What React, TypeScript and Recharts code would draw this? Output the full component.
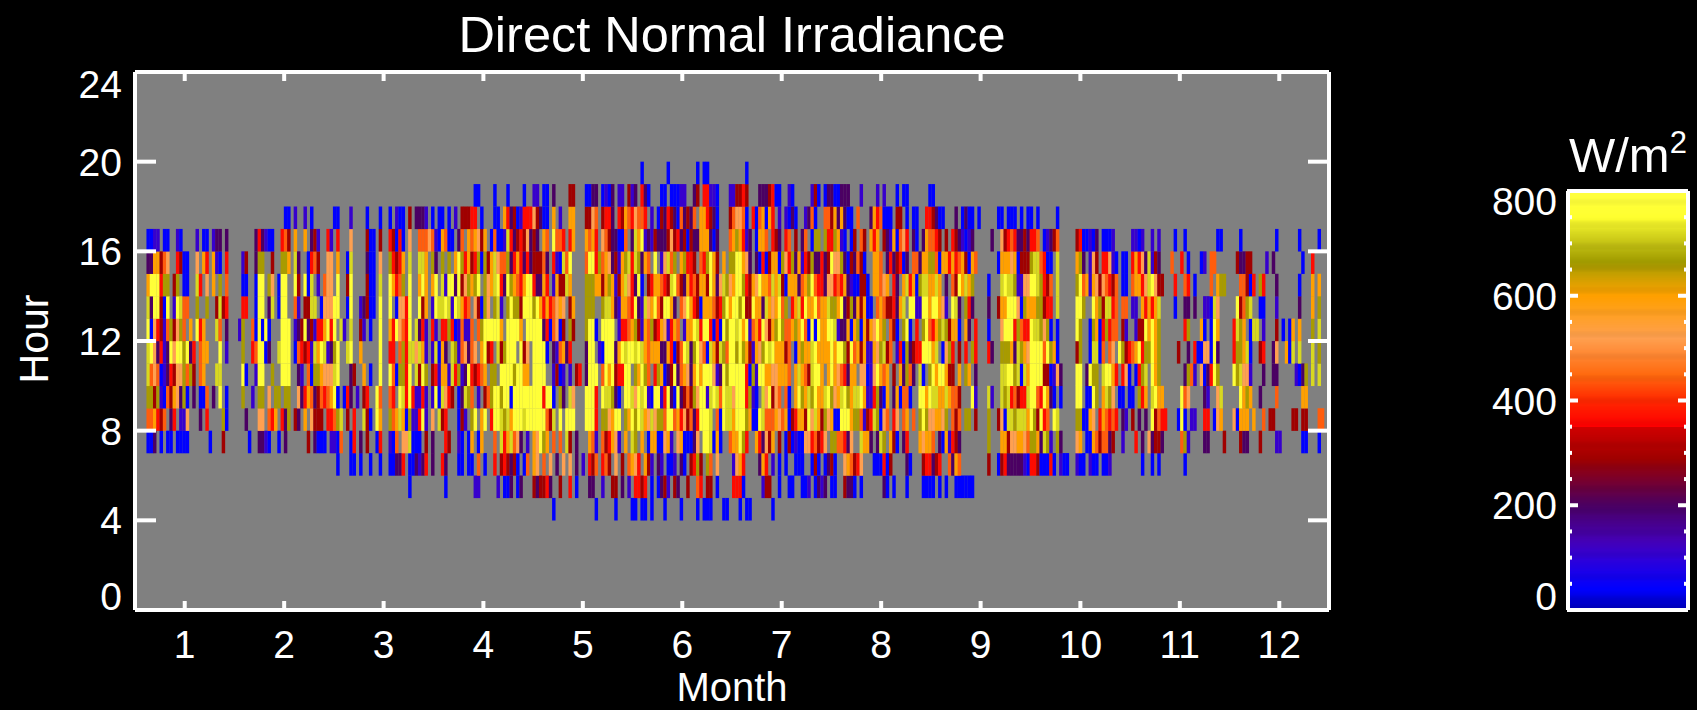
import React from 'react';
import { ScatterChart, Scatter, XAxis, YAxis, ZAxis, CartesianGrid } from 'recharts';

// Readings by hour row: "<day><levels>" runs, each letter one day, '.' = no reading.
const LEVEL_VALUES: Record<string, number> = { a: 40, b: 110, c: 200, d: 290, e: 365, f: 440, g: 520, h: 600, i: 660, j: 720, k: 775 };

const HOUR_4 = '128a 141a 147a 152aa 155aa 158a 162a 167a 172a 174aaa 180aa 185a 187aa 195a';
const HOUR_5 = '84a 95a 104bb 111b 113aa 115c 117a 118c 122d 123c 124d 125d 126e 127c 130d 133e 135a 139c 140c 143b 146d 147d 149c 151b 153e 154e 155d 156e 158a 160a 161c 162d 163b 165d 166c 169d 172f 173e 175d 176d 178a 183e 184e 185e 186a 192b 193d 194d 197a 200aa 204aa 206b 208a 209c 210b 211c 213a 214a 217d 218c 219c 220a 222a 229c 230a 232a 236a 241aaaa 246a 248a 251aaaaaa';
const HOUR_6 = '62a 66aa 69a 72a 75a 78aa 80c 81c 82e 84a 85a 86c 87b 88c 89e 91c 94e 95c 99aa 102a 103a 105f 107a 110e 112d 113e 114d 115c 116d 117a 119a 120f 122h 123g 125f 127g 129c 131g 133g 135c 137b 139e 140d 141f 143e 144f 145d 147g 149d 151f 152h 153g 154e 156h 157d 158b 160c 161b 163a 164a 165b 167c 168a 170d 171e 172i 173d 175i 176f 178g 183b 184g 185h 186e 191c 192h 193e 195b 197a 199a 202a 203a 204a 207a 208d 209a 211a 212c 213d 214a 217g 218h 219f 220d 221e 222g 226aa 228a 229e 230a 231d 236c 237a 241d 242e 243e 244c 245d 246e 249f 250c 251h 252f 261d 264adecccccba 274e 275e 276d 277a 278a 279a 280e 281a 283b 284a 285a 288b 289a 290a 292b 293a 294a 296a 297a 298b 308a 311a 313a 321a';
const HOUR_7 = '4aa 6c 8a 10aa 13aa 15aa 23a 27d 35a 38c 39c 40b 41a 44a 46c 53d 55c 56a 57a 58a 60bb 62a 63f 66a 67e 69c 71d 74a 75e 78b 79a 80f 82g 83g 84j 85a 86a 87a 89d 91c 95e 96d 99b 100a 102a 103h 105a 106h 110f 112j 113e 114h 115j 116f 117g 118c 120b 122h 123g 124k 125i 126h 128f 130f 132j 133d 135c 139h 140f 141b 143f 144d 145e 146h 147g 148b 150h 152j 153i 155h 157a 158h 159h 160a 161a 162g 163h 164b 166g 167h 168a 169a 170a 171c 172g 174k 175k 176j 177a 178h 179a 182f 183h 184h 185k 186i 187e 190h 191e 192c 193g 194d 195h 197d 199a 200d 201a 202b 203a 204a 205g 206g 207e 208f 209d 210e 211g 213i 214i 215f 216f 217e 218c 219g 222j 223h 224h 225c 227c 228j 229i 231h 232d 233a 235c 236e 240h 241g 242h 243h 244f 246c 247a 248h 249b 250e 251d 252c 261i 265hhdgghhgf 274i 275i 276h 277c 278j 279i 280b 282i 283c 288g 289h 291a 292a 293h 294f 295d 296f 297f 298c 299d 302b 306e 308c 310g 311c 312d 313d 314c 320f 321i 322b 327c 328c 333d 338d 339c 340c 344d 349b 350b 357a 358a 362a';
const HOUR_8 = '4ff 6h 7e 8d 9f 11c 12e 14b 15b 16g 20c 22e 27i 28a 34c 38g 39g 41f 42e 43h 45e 46c 47i 49d 50c 52h 54g 55d 56d 57d 59e 60e 61f 62i 63j 65d 67e 70j 71d 72a 74k 75h 78i 79f 80h 81j 82h 83a 84i 85b 86b 87e 88k 89b 91g 93j 94d 95e 99a 100d 101b 103i 104k 106h 107k 109e 110k 111k 112j 113i 114j 115h 116k 117k 118k 119j 120k 121k 122k 123k 124k 125k 126f 127d 128j 130k 132k 133k 134k 138k 139k 140k 141e 143i 144i 145g 146h 147k 148k 150i 151h 152k 153i 154k 155j 156h 157g 158j 159g 160i 161i 162f 163k 164k 165f 166h 167e 168g 169d 170f 171c 172e 173k 174k 175k 176j 178f 179a 180k 181j 182j 183h 184k 185k 186k 187i 188h 189a 190a 191k 192j 193f 194f 195f 196h 197g 198f 199h 200a 201d 202e 203h 204h 205d 206k 207g 208j 209h 210d 211i 212g 213h 214a 215a 216k 217k 218k 219h 220i 221i 222f 223b 224d 225e 226j 227i 228a 229g 230f 232e 233g 235f 236h 238f 240i 241k 242i 243g 244g 245h 246h 247g 248i 250f 251d 252f 254i 255i 257d 261i 264dgajjijjjh 274k 275i 276d 277k 278e 279f 281k 282j 288i 289i 290a 291a 292h 293g 295e 296h 297f 298e 299f 300e 302c 303b 305d 307c 309c 311k 312d 313f 314e 315e 319a 320k 321a 323b 324b 327e 328e 330a 331g 332h 336g 337a 338h 339h 340h 342h 345f 347d 348d 354d 355d 357d 358d 362f 363f';
const HOUR_9 = '4ii 6d 7i 8b 9a 10f 11d 12h 13g 14c 15i 16a 18c 20a 21a 22f 24c 26k 28a 33i 36b 38i 39i 41g 43i 44i 46i 47i 50g 51c 52e 53h 54f 55c 56d 57f 58e 59f 60h 61k 62a 64a 65e 66c 68b 70d 71e 74k 75f 78f 79e 81k 82j 83e 84k 85e 86b 87b 88e 89b 91b 92k 93a 94j 95g 96e 97d 99a 100c 101j 102i 103f 105b 107d 108f 109i 110k 111k 112i 113k 114k 115a 116k 117k 118k 119k 120k 121k 122k 123k 124k 125e 126k 127k 128a 130i 131c 133j 134g 138k 139k 140k 141e 143k 144j 145j 146i 147c 148a 150k 151k 152j 153g 154k 155j 156k 157b 158a 159k 160k 161b 162e 163k 164c 165a 166k 167c 168d 169f 170d 171i 172g 173k 174k 175b 176j 177k 178j 179f 180k 181j 182j 183g 184k 185k 186k 187e 188i 189b 190a 192j 193g 194k 195d 196g 197f 199f 200a 202h 203k 204i 205h 206j 207i 208k 209h 210h 211j 212k 213i 214g 215h 216j 217k 218i 219h 220j 221j 222k 223h 224b 225b 226e 227i 228c 229a 230h 232c 233h 234a 235f 236f 237a 240k 241k 242h 243k 244j 245j 246h 247h 248j 249h 250f 251f 252d 256k 257b 261jb 265jijefdeej 274k 275k 276f 277e 278k 279h 280c 281a 283a 288k 289k 291a 292a 293k 294i 296h 297j 298i 299g 301a 302a 304a 305a 307i 308e 309h 311j 312k 313h 314h 320k 321f 322g 327c 328b 331g 332j 338k 339h 340i 341h 344c 349f 357h 358h';
const HOUR_10 = '4jf 6g 7f 8a 9b 10c 11e 12d 13g 14g 15i 16f 17i 18d 20f 21h 25j 26j 33k 34a 37b 38k 39k 42i 45k 46k 47k 50c 51b 53f 54a 55i 56i 57h 58g 59g 60g 61j 62k 66c 67d 70h 72a 75k 78k 79f 80a 81i 82i 83e 84k 86j 87d 88k 89i 91d 92e 93b 94h 95h 96b 97j 98e 99i 100b 101c 102k 103e 104d 105e 106f 107h 109i 110i 112k 113k 114k 115k 116i 117k 118k 119h 120h 122k 123k 124k 125k 128b 129d 130a 131b 133b 135d 136e 138c 139k 140k 141k 143f 144k 145h 146k 147d 148e 149e 150k 151k 153i 154h 155k 156i 157f 159e 160i 161h 162a 163c 164d 165k 166c 167f 168h 169g 170c 171h 172k 173h 174k 175k 176k 177g 178b 179c 180k 181i 182k 183k 184k 185k 186k 187e 188a 189i 190b 191k 192k 193h 194h 195g 196g 197h 198h 199h 200f 202h 203j 204h 205f 206d 207j 208k 209k 210h 212h 213k 214h 215g 216f 217e 218c 219h 220h 222g 223g 224a 225b 226g 227k 228h 229f 230h 232d 234h 235c 236i 237f 238c 240j 241a 243i 244k 245h 246k 247k 248h 249d 250d 252h 254i 255h 257c 265jjkkijajh 274k 275k 276k 277k 278d 279d 280a 281b 282g 283c 288k 289k 291c 292k 293i 294i 296j 297k 298k 299h 300e 302e 303g 304a 306a 307e 308i 309j 311k 312h 313i 321c 322i 323f 324b 326g 327a 328c 329e 330k 331i 336k 337i 338j 339g 340g 341b 345c 348c 349c 355b 356a 357c 358i 360j 362j';
const HOUR_11 = '4jk 6g 7c 8e 9b 10c 11k 12g 13k 14k 15i 16k 17c 18e 20f 21h 22h 26k 28b 33i 36e 37f 38k 39k 40a 41c 44j 45k 46k 47k 49a 50f 51e 52d 53e 54b 55j 56h 57k 58j 59b 60c 61i 62k 65j 66k 69h 75k 78e 79e 81f 82i 83e 84j 85j 86g 87j 88h 89b 91b 92j 93a 94h 95c 97j 98i 99b 100f 101g 102c 103f 104g 106h 107k 108d 109e 111j 112d 113i 114k 115k 116k 118k 119d 120g 122k 123k 124k 125k 126a 128c 129b 130f 131h 132c 133e 138c 139k 140k 142b 143a 144k 145k 146k 147c 148h 149k 150j 151k 152k 153j 154k 155j 156h 157f 158h 159h 160h 161c 162c 163h 164e 165a 166d 167f 168k 169j 170c 171i 172k 173g 174f 175a 176j 177h 178d 179j 180i 181f 182k 183k 184i 185k 186i 187h 188d 189b 190h 191g 192i 193k 194j 195k 196h 197h 198h 199d 200f 202a 203h 204i 205h 206h 207j 208k 209h 210h 211h 212h 213k 214h 215k 216k 217i 218d 219k 220f 221h 222d 223h 224b 225b 226h 227g 228i 229j 230d 231f 233b 234e 235a 236i 237c 238d 239e 240e 241k 242k 243k 244h 245j 247a 248g 249i 250e 252d 254e 256i 257e 261ec 265iiihcjihg 274k 275k 276k 277k 278f 279k 280i 281h 282a 288d 289i 292a 293j 294j 295a 296f 298f 299g 301k 302i 303d 304e 305f 306h 307k 308e 309i 310i 311k 312h 313i 319d 322c 324e 325a 326a 327g 328g 329a 330k 331c 336e 337i 338i 339h 340j 341a 344d 345e 348c 349g 352h 353a 354j 356j 360j 362i';
const HOUR_12 = '4ka 6g 7e 8d 9b 10f 11i 12d 13g 14i 15f 17h 19k 20e 21h 25j 26f 28c 32b 33i 36f 37a 38k 39a 40k 41a 45k 46k 47k 49b 50c 51d 52k 53c 54d 55b 56e 57e 58h 59k 60e 61k 63j 64b 66j 69d 70b 72a 75k 78h 79e 80k 81g 82f 83e 84k 86j 87c 88e 89b 91e 92b 94e 95e 96i 97e 98a 99b 100f 101b 102b 103f 105f 106i 107k 108k 109k 110k 111k 112h 114k 115k 116k 117k 118h 120k 121k 122k 123k 124k 125c 126e 127a 128f 129g 130a 131d 133i 134d 138i 139k 140k 141a 143k 144k 145k 146k 148b 149e 150e 151f 152h 153i 154d 155b 156h 157f 158i 159d 160e 161h 162g 163b 164e 165h 166f 168b 169h 170h 171k 172j 173e 174k 175k 176e 177a 178e 179a 180k 181i 182k 183k 184j 185k 186h 187k 188b 189f 190h 191e 192k 193g 194d 195h 196i 197k 198i 199f 200f 201h 202i 203h 204k 205f 206a 207k 208a 209k 210h 211h 212k 213k 214j 215b 216c 217c 218h 219a 220h 221i 222a 223h 224d 225h 226g 227k 228h 229i 231f 232d 233a 235i 236k 237a 239e 241i 242k 243f 244e 245h 246i 247j 248i 249d 250h 251h 252a 254h 255c 257e 261a 265gkkkeifee 274k 275j 276j 277i 278g 279i 280a 282a 288k 289i 292a 293i 294h 295a 296e 297i 298e 299f 300f 302d 303b 306b 307d 308d 309k 310h 311k 312h 313i 321e 322i 326h 327a 329a 330k 331h 336e 337j 338i 339h 341a 342j 343j 345b 349d 351a 353a 354h 356h 360i 362j';
const HOUR_13 = '4jc 6k 7k 8d 9a 10k 12b 13k 14j 15f 16f 19i 22i 25d 26j 27d 28e 33e 34e 37a 38k 39k 41c 42j 44a 45k 46k 49f 50b 52d 53d 54j 55j 57a 58g 59g 60g 61k 62k 65a 66k 69b 70c 71d 72a 73a 75k 78k 80a 81g 82g 83e 84k 87k 88d 89h 91b 92k 93j 94j 95k 96j 97b 98k 99j 100h 101e 102f 104g 105d 106a 107i 108g 110i 111j 112b 114i 115k 116i 117i 118d 119k 120k 121k 122i 123k 124h 125e 126h 127e 128f 129g 130h 131g 133d 134h 138i 139i 140i 143i 144j 145j 146h 147c 148b 149h 150h 151f 152e 153k 154c 155b 156j 157g 158h 159k 160f 161d 162k 163k 164h 165c 167f 168g 169k 170h 171e 172d 173a 174h 175h 176h 177f 178d 179e 180i 181k 182h 183k 184k 185i 186k 187d 188d 189k 190h 191h 192c 193j 194h 195g 196h 197k 198f 199i 201e 202h 203j 204e 205k 206h 207h 208k 209f 210h 211h 212j 213i 214i 215h 216k 217c 218d 219i 220c 221h 222d 223h 224a 225a 227f 228h 229f 230d 231d 232e 233c 234h 235j 237k 238k 239b 240b 241k 242k 243h 244k 245k 246h 247g 248b 250k 251j 252c 254i 255e 256c 261c 264dhhkkkgaih 274h 275h 276i 277i 278d 279e 280e 282j 288k 289k 290i 293k 294h 295i 296d 297j 298j 299e 300f 302f 303f 305b 306b 308h 309e 310h 311e 312h 313j 318a 321c 322c 324c 327b 328b 329a 330j 331g 337k 338d 339f 340i 341j 344a 345a 349b 356c 360h 362i';
const HOUR_14 = '4hk 6k 7k 8e 9i 10i 12d 13i 15a 16a 19j 20e 22g 24h 26i 28f 33a 34a 37a 38k 39k 41i 42g 44a 45k 46k 49k 50d 52k 53a 54j 56b 58f 59g 60g 62k 65d 66k 71d 72a 73a 75j 78k 79h 80e 81f 82i 84k 87h 88k 89h 91h 92k 94j 95b 96k 97k 98c 99k 100d 101g 102i 103h 104i 105k 107i 108g 109h 110j 111k 112e 113c 114k 115i 116h 117f 118e 119h 120k 121k 122e 123c 124c 125h 126e 128b 129h 130d 131d 132j 133h 138i 139i 140i 141h 142h 143d 144h 145i 146h 147b 148d 149h 150j 151g 152e 153c 154k 155a 157d 158e 159h 160h 161f 162e 163d 164j 165k 166f 167d 168c 169h 170e 171f 172d 173h 174h 175d 176k 177h 178c 179g 180j 181i 182g 183h 184k 185k 186i 187e 188d 189h 190g 191k 192h 193h 194f 195j 196h 197j 198d 199a 200h 201h 202h 203c 204f 205h 206i 207k 208f 209e 210e 211c 212g 213g 214e 215f 216e 217h 218c 219b 220a 221a 222d 223d 224a 226h 227h 228f 229g 230h 232e 233c 235h 236j 237e 238h 239a 240i 241j 242j 243h 244h 245j 246h 248c 250f 251d 252k 253h 254j 255h 256i 261a 265jkjjibbgg 274k 275k 276j 277i 278e 279d 280f 282j 288i 289k 290f 291h 292b 293h 294g 295d 296g 297f 298e 299d 300f 302a 303a 305f 306h 307h 308e 309g 310j 311k 312g 313d 314d 318e 321f 322e 324a 329f 331h 332i 333i 338f 339f 340d 341a 342e 344i 345e 349c 356a 360h 362h';
const HOUR_15 = '4cc 6h 7h 8d 9f 10g 13e 14d 15a 16a 19g 21h 22e 24h 25b 26a 28e 33b 34d 37c 38i 39i 42d 45i 46i 47h 49j 50c 53a 54e 55f 56d 59g 60g 62h 65a 66j 71c 72a 73a 75g 78i 79e 80d 81e 82h 84j 87j 88j 89h 91i 92c 94i 96i 98h 99k 100i 101e 102h 103d 104e 105i 106a 107i 108d 109h 110j 111g 112f 113f 114i 115c 116e 117h 118e 119c 120e 121c 122d 123d 124d 125f 126c 128e 129b 130a 131j 132f 133k 138f 139k 140k 141e 142i 143f 144h 145g 146c 147d 148b 149h 150i 151j 152e 153j 154i 155c 156h 157f 159k 161b 162g 163j 164f 165i 167h 168i 169e 170e 171d 173f 174e 175i 176k 177h 178d 180h 182i 183i 184k 185k 186h 187g 188c 190c 191a 192e 193a 194d 195h 196h 197a 198i 199g 200e 201i 202c 203h 204b 205e 206d 207i 208c 209c 210e 211c 212d 213k 214g 215g 216i 217c 218a 219d 220c 221f 222d 223a 226h 227h 228f 230c 231e 232c 233d 234e 235a 236c 238f 239f 240c 241h 242h 243i 244i 245f 246a 247h 248h 249e 250h 251e 252f 253h 254d 255a 256h 257f 264ahhhghaddd 274i 275j 276j 277f 278e 279a 280a 282j 288h 289i 290c 292b 293g 294d 296e 297e 298g 299b 300a 302a 303a 305e 306h 307e 308g 309c 310j 311b 312d 313c 317f 320e 322a 326a 327b 329f 330f 337d 338c 339c 340d 341d 346b 348c 357a 360e';
const HOUR_16 = '4aa 6b 7b 9aa 13b 14a 19b 21aa 24b 25c 26c 28c 37c 38e 39c 40b 41a 42a 45e 46f 47d 49h 52h 54c 55d 56b 59e 60b 62e 66g 71d 72a 73a 75d 78e 79d 80a 81e 82a 84g 87f 88f 89f 90g 91f 92b 93a 94h 95f 96a 97a 99c 100f 102h 103f 104h 105g 106d 107h 109a 110f 111a 112a 113b 114j 115e 116c 117d 118e 119d 120g 121c 122d 123c 125h 126f 128k 129f 130f 131e 133e 134h 138h 139f 140h 141e 143g 144f 145d 146c 147c 148a 149a 150f 152c 153j 154h 155k 156b 157c 158b 159d 160c 161c 162c 163d 164g 165d 166e 167c 168d 169a 170d 171c 172c 173h 174h 175h 176c 177a 178c 182f 183h 184i 185h 186e 187b 188c 190a 191h 192h 193f 195e 196d 197c 199e 200f 202d 204c 205f 207a 208i 209i 211i 212e 213e 214i 215h 216b 217a 219a 220d 222f 223d 225h 226e 227h 229d 230c 231b 232h 233a 234f 235g 236e 238c 239a 241c 242h 243f 244f 245e 246d 248d 250e 251d 252c 253b 254a 255b 256c 262c 265gdefeccdc 274e 275e 276f 278a 279b 280c 281d 282f 288d 289e 290a 291a 292b 293a 294c 296a 297a 298a 299b 305b 306b 307a 308b 311b 313b 318a 321a 331a 332a 338a 349a 356a 362a';
const HOUR_17 = '46aa 49b 52b 54a 61aa 66b 71a 75a 78a 80b 81a 82a 84d 86c 87c 88c 89b 91a 93aa 96a 98b 100d 101d 102d 103e 104e 106a 110a 111a 113h 114e 115c 116d 117a 118b 119e 120e 121e 122g 123d 124c 125a 126a 128h 130b 133h 134h 138d 139d 140g 141f 143d 144e 145e 146c 148e 149d 150h 151f 152e 153g 154f 155f 156e 158b 160a 161d 162c 163e 164d 165c 166a 167f 168c 169d 170c 171f 173h 174h 175e 176d 177c 178a 182d 183f 184g 185g 186f 187a 189e 190a 191f 192h 193a 194h 195e 197b 199b 200a 201c 202a 205b 206c 207f 208a 211f 212f 213d 214h 215c 216h 217c 218a 219a 221f 225c 226h 227e 228f 229a 230a 231a 233d 234d 236a 238a 239a 242e 243e 244d 245c 246a 247a 251c 253a 254c 255a 256a 258a 264aa 267aaa 271a 273a 274a 276a 282a';
const HOUR_18 = '104aa 110a 114a 119a 122b 123b 125a 126a 128c 133d 134d 138a 139a 140c 141c 143a 144b 145a 146c 148b 149b 151d 152b 153c 155e 156c 157a 161a 162a 164a 165a 166a 167b 168b 171c 172d 174e 175e 176b 177b 178a 182b 183b 184d 185d 186e 187d 191c 192c 193c 194d 195e 196a 197a 200b 201a 207b 208d 209a 211a 212c 213c 214a 215a 216c 217c 218c 222b 227b 229b 233a 235a 236a 243a 244a';
const HOUR_19 = '155a 163a 172a 174a 175a 187a';

const HOUR_ROWS: [number, string][] = [
  [4, HOUR_4], [5, HOUR_5], [6, HOUR_6], [7, HOUR_7], [8, HOUR_8], [9, HOUR_9], [10, HOUR_10], [11, HOUR_11],
  [12, HOUR_12], [13, HOUR_13], [14, HOUR_14], [15, HOUR_15], [16, HOUR_16], [17, HOUR_17], [18, HOUR_18], [19, HOUR_19],
];

const MONTH_LABELS = ['1', '2', '3', '4', '5', '6', '7', '8', '9', '10', '11', '12'];
const MONTH_TICKS = [15.2, 45.6, 76, 106.5, 136.9, 167.3, 197.7, 228.1, 258.5, 289, 319.4, 349.8];
const HOUR_TICKS = [0, 4, 8, 12, 16, 20, 24];
const SCALE_MAJOR = [0, 200, 400, 600, 800];
const SCALE_MINOR = [50, 100, 150, 250, 300, 350, 450, 500, 550, 650, 700, 750];
// Samples of the colour ramp itself (the legend's axis, not chart data).
const SCALE_STEP = 2;
const SCALE_LEVELS = Array.from({ length: 400 }, (_, i) => (i + 0.5) * SCALE_STEP);

const STOP_VALUES = [0, 40, 100, 130, 200, 290, 350, 351, 400, 450, 520, 600, 640, 665, 720, 750, 800];
const STOP_COLORS = ['#0000b0', '#0000ff', '#3000d8', '#4400b8', '#4b0063', '#a00000', '#d00000', '#ff0000', '#ff2800', '#ff6a10', '#ffa050', '#ffa000', '#c8a000', '#a09a00', '#d8d820', '#ffff30', '#ffff40'];

const hexToRgb = (h: string) => [1, 3, 5].map((i) => parseInt(h.slice(i, i + 2), 16));
const colorOf = (v: number) => {
  let i = 0;
  while (i < STOP_VALUES.length - 2 && v > STOP_VALUES[i + 1]) i++;
  const t = Math.min(1, Math.max(0, (v - STOP_VALUES[i]) / (STOP_VALUES[i + 1] - STOP_VALUES[i])));
  const a = hexToRgb(STOP_COLORS[i]);
  const b = hexToRgb(STOP_COLORS[i + 1]);
  return `rgb(${a.map((c, k) => Math.round(c + (b[k] - c) * t)).join(',')})`;
};

const cells: { day: number; hour: number; value: number }[] = [];
HOUR_ROWS.forEach(([hour, text]) => {
  text.split(' ').forEach((run) => {
    const m = run.match(/^(\d+)([a-k.]+)$/);
    if (!m) return;
    [...m[2]].forEach((c, i) => {
      if (c !== '.') cells.push({ day: Number(m[1]) + i, hour: hour + 0.5, value: LEVEL_VALUES[c] });
    });
  });
});
const scaleCells = SCALE_LEVELS.map((value) => ({ pos: 0.5, value }));

const FONT = '"Liberation Sans", Arial, sans-serif';
const TICK_SIZE = 39;
const W = 1697;
const H = 710;
const PLOT = { left: 135, right: 1329, top: 72, bottom: 610 };
const CELL_W = (PLOT.right - PLOT.left) / 365;
const CELL_H = (PLOT.bottom - PLOT.top) / 24;
const BAR = { left: 1568, right: 1688, top: 191, bottom: 610 };
const BAR_X = 1440;
const BAR_STEP = ((BAR.bottom - BAR.top) / 800) * SCALE_STEP;

const HeatCell = (p: any) => (
  <rect x={p.cx - CELL_W / 2} y={p.cy - CELL_H / 2} width={CELL_W + 0.2} height={CELL_H + 0.2} fill={colorOf(p.payload.value)} />
);
const ScaleCell = (p: any) => (
  <rect x={BAR.left - BAR_X} y={p.cy - BAR_STEP / 2 - 0.3} width={BAR.right - BAR.left} height={BAR_STEP + 0.6} fill={colorOf(p.payload.value)} />
);
const NoMark = () => null;
const NoTick = () => <g />;

const LeftTick = (low: number, high: number, highShift: number) => (p: any) => {
  const v = p.payload.value;
  const base = v === high ? p.y + highShift : v === low ? p.y : p.y + 14;
  return (
    <text x={p.x} y={base} textAnchor="end" fill="#fff" fontFamily={FONT} fontSize={TICK_SIZE}>{v}</text>
  );
};

const MonthTick = (p: any) => (
  <text x={p.x} y={p.y + 48} textAnchor="middle" fill="#fff" fontFamily={FONT} fontSize={TICK_SIZE}>{MONTH_LABELS[p.index]}</text>
);

const line = { stroke: '#fff', strokeWidth: 4 };
const tick = { stroke: '#fff', strokeWidth: 4 };
const markLayer: any = { zIndex: 100 };
const axisLayer: any = { zIndex: 900 };

export default function App() {
  return (
    <div style={{ position: 'absolute', left: 0, top: 0, width: W, height: H, background: '#000', overflow: 'hidden' }}>
      <div style={{ position: 'absolute', left: 0, top: 0 }}>
        <ScatterChart
          width={W}
          height={H}
          margin={{ top: PLOT.top - 1, left: PLOT.left - 60, right: W - PLOT.right - 1, bottom: H - PLOT.bottom - 60 }}
        >
          <CartesianGrid horizontal={false} vertical={false} fill="#808080" />
          <Scatter {...markLayer} xAxisId="b" yAxisId="l" data={cells} shape={HeatCell} isAnimationActive={false} />
          <Scatter {...markLayer} xAxisId="t" yAxisId="r" data={cells.slice(0, 1)} shape={NoMark} isAnimationActive={false} />
          <XAxis {...axisLayer} xAxisId="b" type="number" dataKey="day" domain={[0, 365]} ticks={MONTH_TICKS} height={60} interval={0} allowDataOverflow
            axisLine={line} tickLine={tick} tickSize={-9} tickMargin={9} tick={MonthTick} />
          <XAxis {...axisLayer} xAxisId="t" type="number" dataKey="day" orientation="top" domain={[0, 365]} ticks={MONTH_TICKS} height={1} interval={0} allowDataOverflow
            axisLine={line} tickLine={tick} tickSize={-9} tick={NoTick} />
          <YAxis {...axisLayer} yAxisId="l" type="number" dataKey="hour" domain={[0, 24]} ticks={HOUR_TICKS} width={60} interval={0} allowDataOverflow
            axisLine={line} tickLine={tick} tickSize={-21} tickMargin={34} tick={LeftTick(0, 24, 26)} />
          <YAxis {...axisLayer} yAxisId="r" type="number" dataKey="hour" orientation="right" domain={[0, 24]} ticks={HOUR_TICKS} width={1} interval={0} allowDataOverflow
            axisLine={line} tickLine={tick} tickSize={-21} tick={NoTick} />
          <ZAxis range={[10, 10]} />
          <text x={732} y={52} textAnchor="middle" fill="#fff" fontFamily={FONT} fontSize={50.5}>Direct Normal Irradiance</text>
          <text x={732} y={701} textAnchor="middle" fill="#fff" fontFamily={FONT} fontSize={40}>Month</text>
          <text transform="translate(48 339) rotate(-90)" textAnchor="middle" fill="#fff" fontFamily={FONT} fontSize={41}>Hour</text>
        </ScatterChart>
      </div>
      <div style={{ position: 'absolute', left: BAR_X, top: 0 }}>
        <ScatterChart
          width={W - BAR_X}
          height={H}
          margin={{ top: BAR.top - 1, left: BAR.left - BAR_X - 61, right: W - BAR.right - 2, bottom: H - BAR.bottom - 1 }}
        >
          <Scatter {...markLayer} xAxisId="b" yAxisId="z" data={scaleCells} shape={ScaleCell} isAnimationActive={false} />
          <Scatter {...markLayer} xAxisId="t" yAxisId="r" data={scaleCells.slice(0, 1)} shape={NoMark} isAnimationActive={false} />
          <Scatter {...markLayer} xAxisId="b" yAxisId="a" data={scaleCells.slice(0, 1)} shape={NoMark} isAnimationActive={false} />
          <Scatter {...markLayer} xAxisId="t" yAxisId="rm" data={scaleCells.slice(0, 1)} shape={NoMark} isAnimationActive={false} />
          <XAxis {...axisLayer} xAxisId="b" type="number" dataKey="pos" domain={[0, 1]} height={1} ticks={[0.5]} tick={NoTick} axisLine={line} tickLine={false} allowDataOverflow />
          <XAxis {...axisLayer} xAxisId="t" type="number" dataKey="pos" orientation="top" domain={[0, 1]} height={1} ticks={[0.5]} tick={NoTick} axisLine={line} tickLine={false} allowDataOverflow />
          <YAxis {...axisLayer} yAxisId="a" type="number" dataKey="value" domain={[0, 800]} ticks={SCALE_MINOR} width={1} interval={0} allowDataOverflow
            axisLine={line} tickLine={tick} tickSize={-4} tick={NoTick} />
          <YAxis {...axisLayer} yAxisId="z" type="number" dataKey="value" domain={[0, 800]} ticks={SCALE_MAJOR} width={60} interval={0} allowDataOverflow
            axisLine={false} tickLine={tick} tickSize={-11} tickMargin={21} tick={LeftTick(0, 800, 24)} />
          <YAxis {...axisLayer} yAxisId="r" type="number" dataKey="value" orientation="right" domain={[0, 800]} ticks={SCALE_MAJOR} width={1} interval={0} allowDataOverflow
            axisLine={line} tickLine={tick} tickSize={-10} tick={NoTick} />
          <YAxis {...axisLayer} yAxisId="rm" type="number" dataKey="value" orientation="right" domain={[0, 800]} ticks={SCALE_MINOR} width={1} interval={0} allowDataOverflow
            axisLine={false} tickLine={tick} tickSize={-5} tick={NoTick} />
          <ZAxis range={[10, 10]} />
          <text x={1569 - BAR_X} y={172} fill="#fff" fontFamily={FONT} fontSize={49}>W/m<tspan dy={-19} fontSize={31}>2</tspan></text>
        </ScatterChart>
      </div>
    </div>
  );
}
